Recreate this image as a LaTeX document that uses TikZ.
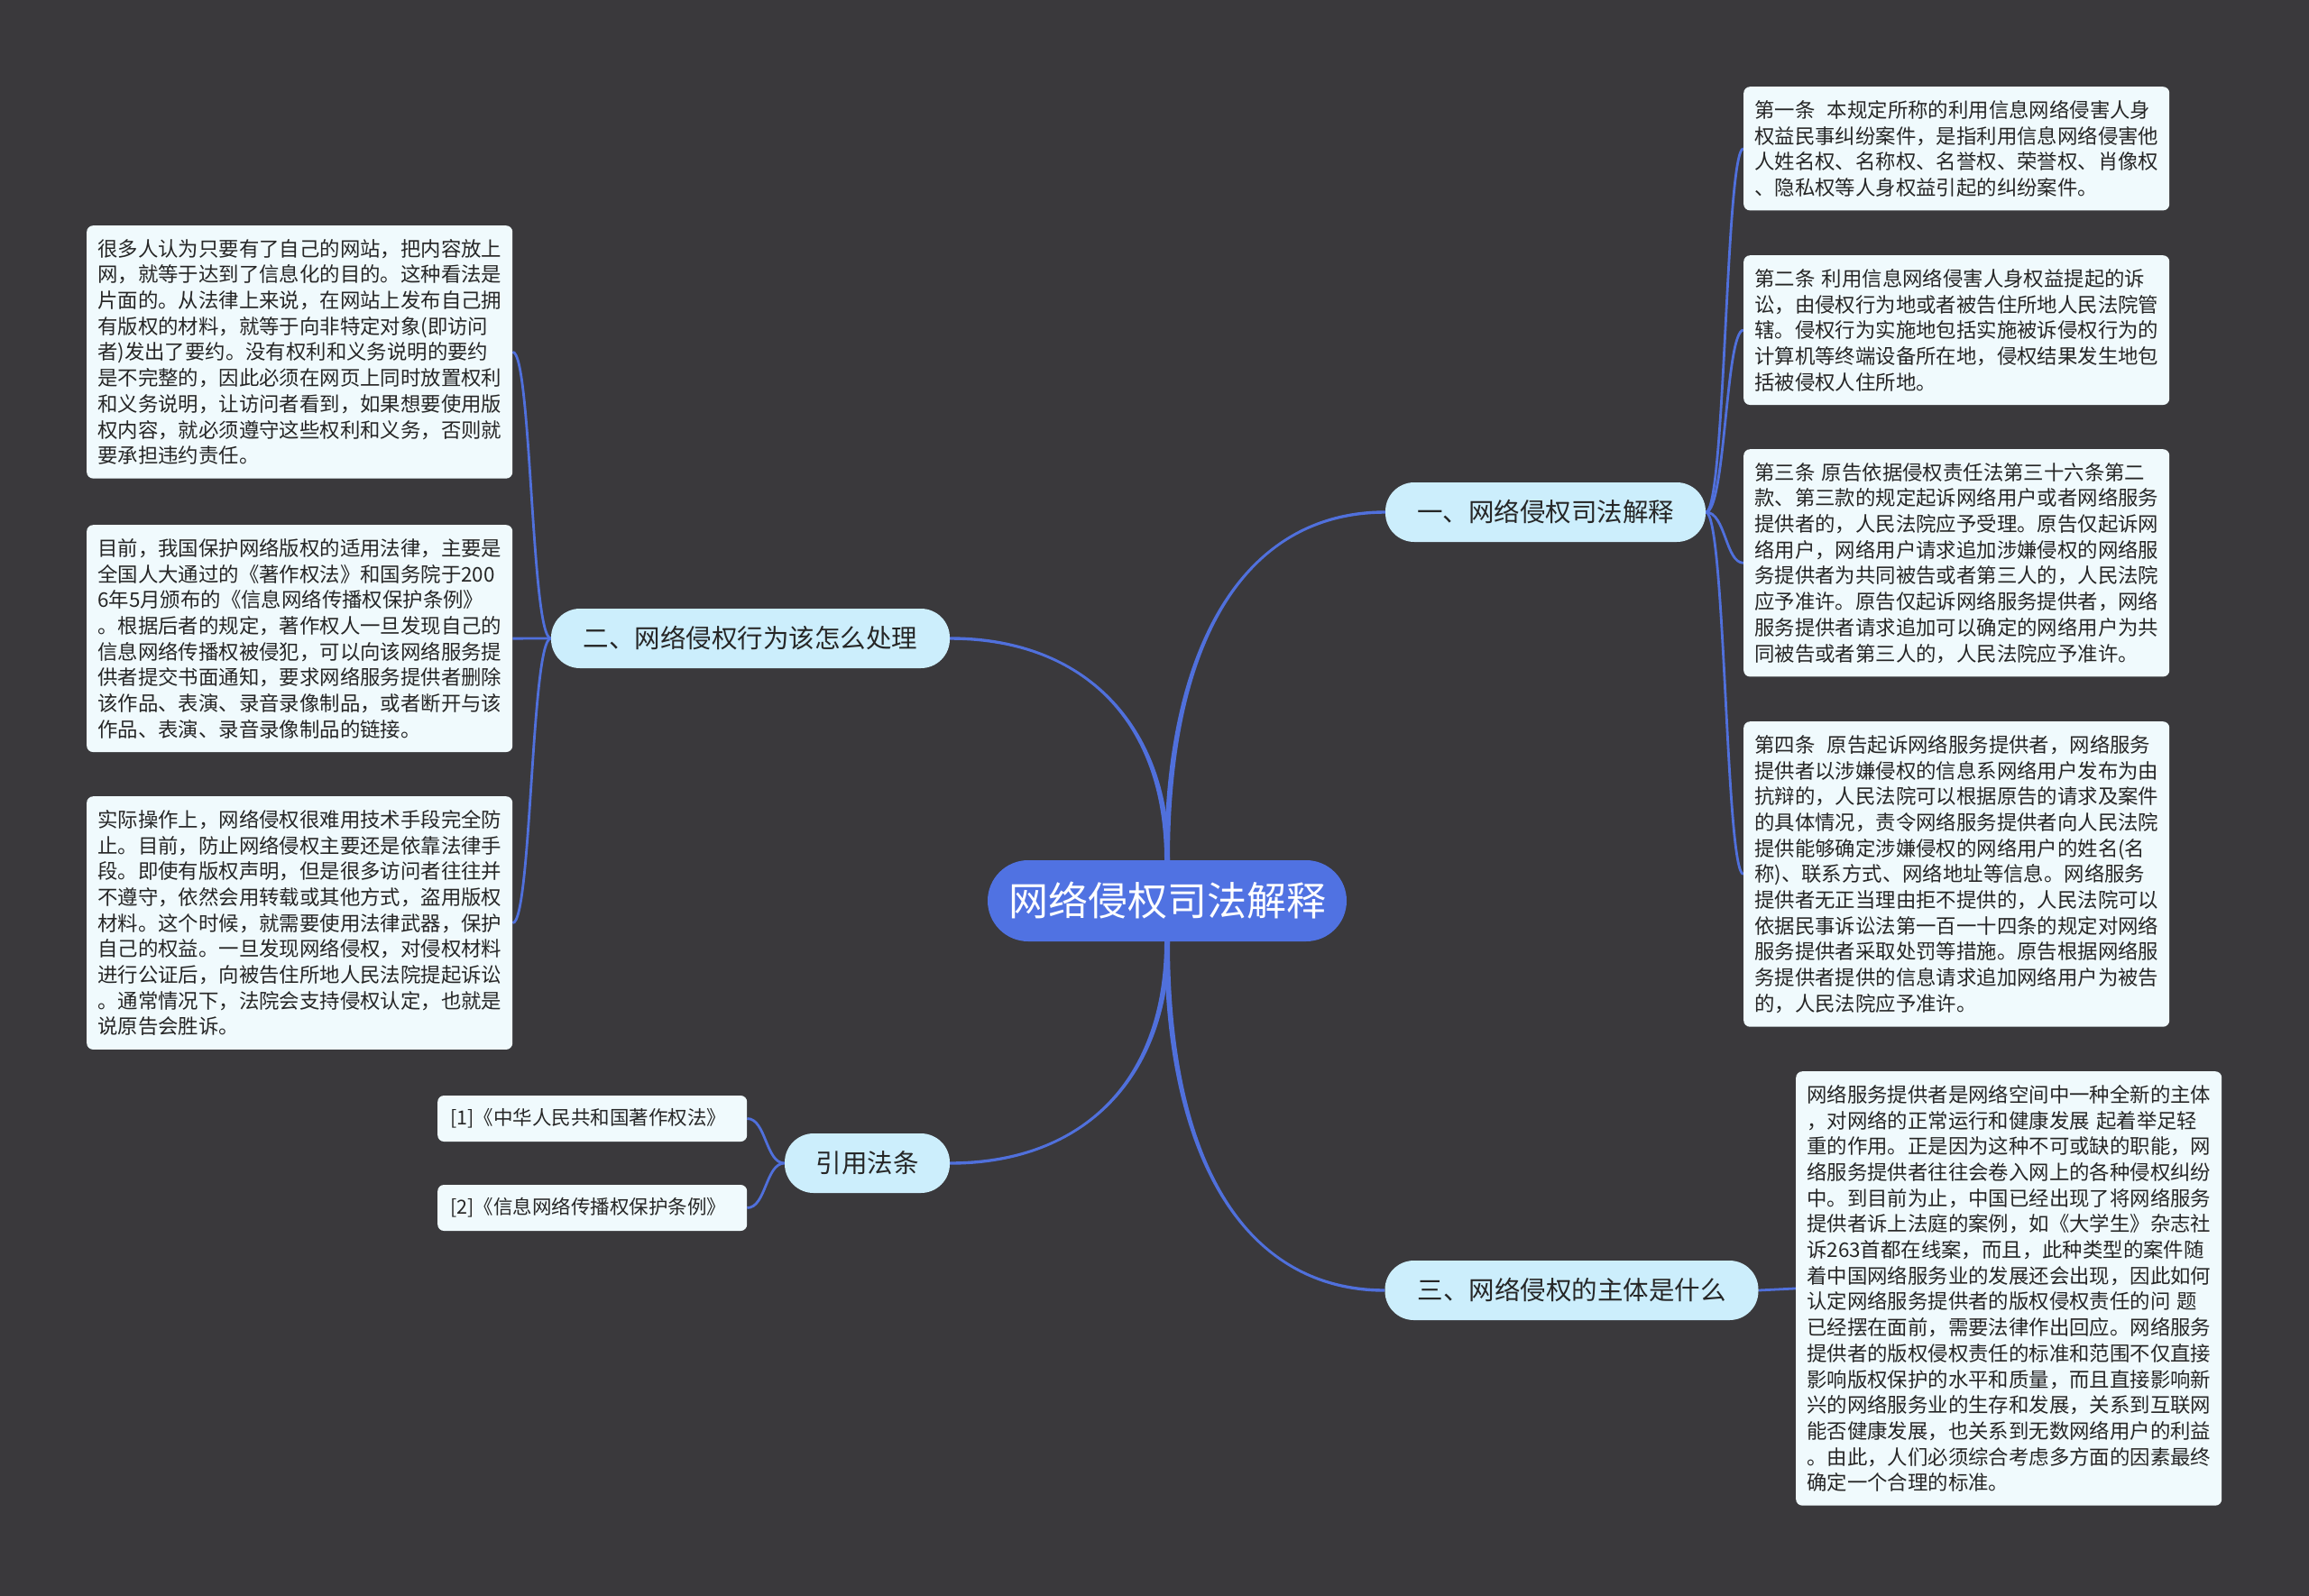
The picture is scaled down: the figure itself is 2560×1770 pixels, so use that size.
\documentclass[tikz,border=0pt]{standalone}
\usepackage{fontspec}
\setmainfont{Noto Sans CJK SC}
\definecolor{bgc}{HTML}{3A393C}
\definecolor{lnk}{HTML}{5070DC}
\definecolor{rootc}{HTML}{5072E2}
\definecolor{brc}{HTML}{CCEEFC}
\definecolor{leafc}{HTML}{F0FAFD}
\definecolor{txt}{HTML}{262626}
\pgfdeclarelayer{bg}
\pgfdeclarelayer{links}
\pgfsetlayers{bg,links,main}
\tikzset{
  leaf/.style={fill=leafc, rounded corners=7pt, anchor=north west, inner xsep=12pt, inner ysep=15pt,
    text width=448pt, align=left, font=\fontsize{22.4pt}{28.7pt}\selectfont, text=txt},
  branch/.style={fill=brc, rounded corners=32pt, minimum height=66pt, inner sep=0pt,
    font=\fontsize{28.5pt}{34pt}\selectfont, text=txt},
  root/.style={fill=rootc, rounded corners=45pt, minimum width=398pt, minimum height=90pt, inner sep=0pt,
    font=\fontsize{44pt}{50pt}\selectfont, text=white},
  cite/.style={fill=leafc, rounded corners=7pt, anchor=west, minimum height=51pt, inner xsep=14pt, inner ysep=0pt,
    text width=315pt, align=left, font=\fontsize{21.5pt}{26pt}\selectfont, text=txt},
  sublink/.style={draw=lnk, line width=2.8pt},
}
\begin{document}
\begin{tikzpicture}[x=1pt,y=-1pt]
\begin{pgfonlayer}{bg}
\fill[bgc] (0,0) rectangle (2560,1770);
\end{pgfonlayer}
\useasboundingbox (0,0) rectangle (2560,1770);

\node[root] (c) at (1294,999) {网络侵权司法解释};
\node[branch, minimum width=355pt] (b1) at (1713.5,568) {一、网络侵权司法解释};
\node[branch, minimum width=442pt] (b2) at (832,708) {二、网络侵权行为该怎么处理};
\node[branch, minimum width=414pt] (b3) at (1742.5,1431) {三、网络侵权的主体是什么};
\node[branch, minimum width=183pt] (b4) at (961.5,1290) {引用法条};

\node[leaf] (r1) at (1933,96) {第一条\hspace{0.6em}本规定所称的利用信息网络侵害人身\\
权益民事纠纷案件，是指利用信息网络侵害他\\
人姓名权、名称权、名誉权、荣誉权、肖像权\\
、隐私权等人身权益引起的纠纷案件。};

\node[leaf] (r2) at (1933,283) {第二条 利用信息网络侵害人身权益提起的诉\\
讼，由侵权行为地或者被告住所地人民法院管\\
辖。侵权行为实施地包括实施被诉侵权行为的\\
计算机等终端设备所在地，侵权结果发生地包\\
括被侵权人住所地。};

\node[leaf] (r3) at (1933,498) {第三条 原告依据侵权责任法第三十六条第二\\
款、第三款的规定起诉网络用户或者网络服务\\
提供者的，人民法院应予受理。原告仅起诉网\\
络用户，网络用户请求追加涉嫌侵权的网络服\\
务提供者为共同被告或者第三人的，人民法院\\
应予准许。原告仅起诉网络服务提供者，网络\\
服务提供者请求追加可以确定的网络用户为共\\
同被告或者第三人的，人民法院应予准许。};

\node[leaf] (r4) at (1933,800) {第四条\hspace{0.6em}原告起诉网络服务提供者，网络服务\\
提供者以涉嫌侵权的信息系网络用户发布为由\\
抗辩的，人民法院可以根据原告的请求及案件\\
的具体情况，责令网络服务提供者向人民法院\\
提供能够确定涉嫌侵权的网络用户的姓名(名\\
称)、联系方式、网络地址等信息。网络服务\\
提供者无正当理由拒不提供的，人民法院可以\\
依据民事诉讼法第一百一十四条的规定对网络\\
服务提供者采取处罚等措施。原告根据网络服\\
务提供者提供的信息请求追加网络用户为被告\\
的，人民法院应予准许。};

\node[leaf] (r5) at (1991,1188) {网络服务提供者是网络空间中一种全新的主体\\
，对网络的正常运行和健康发展 起着举足轻\\
重的作用。正是因为这种不可或缺的职能，网\\
络服务提供者往往会卷入网上的各种侵权纠纷\\
中。到目前为止，中国已经出现了将网络服务\\
提供者诉上法庭的案例，如《大学生》杂志社\\
诉263首都在线案，而且，此种类型的案件随\\
着中国网络服务业的发展还会出现，因此如何\\
认定网络服务提供者的版权侵权责任的问 题\\
已经摆在面前，需要法律作出回应。网络服务\\
提供者的版权侵权责任的标准和范围不仅直接\\
影响版权保护的水平和质量，而且直接影响新\\
兴的网络服务业的生存和发展，关系到互联网\\
能否健康发展，也关系到无数网络用户的利益\\
。由此，人们必须综合考虑多方面的因素最终\\
确定一个合理的标准。};

\node[leaf] (l1) at (96,250) {很多人认为只要有了自己的网站，把内容放上\\
网，就等于达到了信息化的目的。这种看法是\\
片面的。从法律上来说，在网站上发布自己拥\\
有版权的材料，就等于向非特定对象(即访问\\
者)发出了要约。没有权利和义务说明的要约\\
是不完整的，因此必须在网页上同时放置权利\\
和义务说明，让访问者看到，如果想要使用版\\
权内容，就必须遵守这些权利和义务，否则就\\
要承担违约责任。};

\node[leaf] (l2) at (96,582) {目前，我国保护网络版权的适用法律，主要是\\
全国人大通过的《著作权法》和国务院于200\\
6年5月颁布的《信息网络传播权保护条例》\\
。根据后者的规定，著作权人一旦发现自己的\\
信息网络传播权被侵犯，可以向该网络服务提\\
供者提交书面通知，要求网络服务提供者删除\\
该作品、表演、录音录像制品，或者断开与该\\
作品、表演、录音录像制品的链接。};

\node[leaf] (l3) at (96,883) {实际操作上，网络侵权很难用技术手段完全防\\
止。目前，防止网络侵权主要还是依靠法律手\\
段。即使有版权声明，但是很多访问者往往并\\
不遵守，依然会用转载或其他方式，盗用版权\\
材料。这个时候，就需要使用法律武器，保护\\
自己的权益。一旦发现网络侵权，对侵权材料\\
进行公证后，向被告住所地人民法院提起诉讼\\
。通常情况下，法院会支持侵权认定，也就是\\
说原告会胜诉。};

\node[cite] (k1) at (485,1240.5) {[1]《中华人民共和国著作权法》};
\node[cite] (k2) at (485,1339.5) {[2]《信息网络传播权保护条例》};

\begin{pgfonlayer}{links}
% main tapered links
\fill[lnk] ([xshift=-3pt]c.north) .. controls +(0,-250) and +(-150,0) .. ([yshift=1.7pt]b1.west)
  -- ([yshift=-1.7pt]b1.west) .. controls +(-150,0) and +(0,-250) .. ([xshift=3pt]c.north) -- cycle;
\fill[lnk] ([xshift=3pt]c.north) .. controls +(0,-150) and +(150,0) .. ([yshift=1.7pt]b2.east)
  -- ([yshift=-1.7pt]b2.east) .. controls +(150,0) and +(0,-150) .. ([xshift=-3pt]c.north) -- cycle;
\fill[lnk] ([xshift=-3pt]c.south) .. controls +(0,250) and +(-150,0) .. ([yshift=-1.7pt]b3.west)
  -- ([yshift=1.7pt]b3.west) .. controls +(-150,0) and +(0,250) .. ([xshift=3pt]c.south) -- cycle;
\fill[lnk] ([xshift=3pt]c.south) .. controls +(0,150) and +(150,0) .. ([yshift=-1.7pt]b4.east)
  -- ([yshift=1.7pt]b4.east) .. controls +(150,0) and +(0,150) .. ([xshift=-3pt]c.south) -- cycle;
% sub links
\foreach \n in {r1,r2,r3,r4}
  \draw[sublink] (b1.east) .. controls +(22,0) and +(-20,0) .. (\n.west);
\foreach \n in {l1,l2,l3}
  \draw[sublink] (b2.west) .. controls +(-22,0) and +(21,0) .. (\n.east);
\foreach \n in {k1,k2}
  \draw[sublink] (b4.west) .. controls +(-21,0) and +(21,0) .. (\n.east);
\draw[sublink] (b3.east) -- (r5.west);
\end{pgfonlayer}
\end{tikzpicture}
\end{document}
